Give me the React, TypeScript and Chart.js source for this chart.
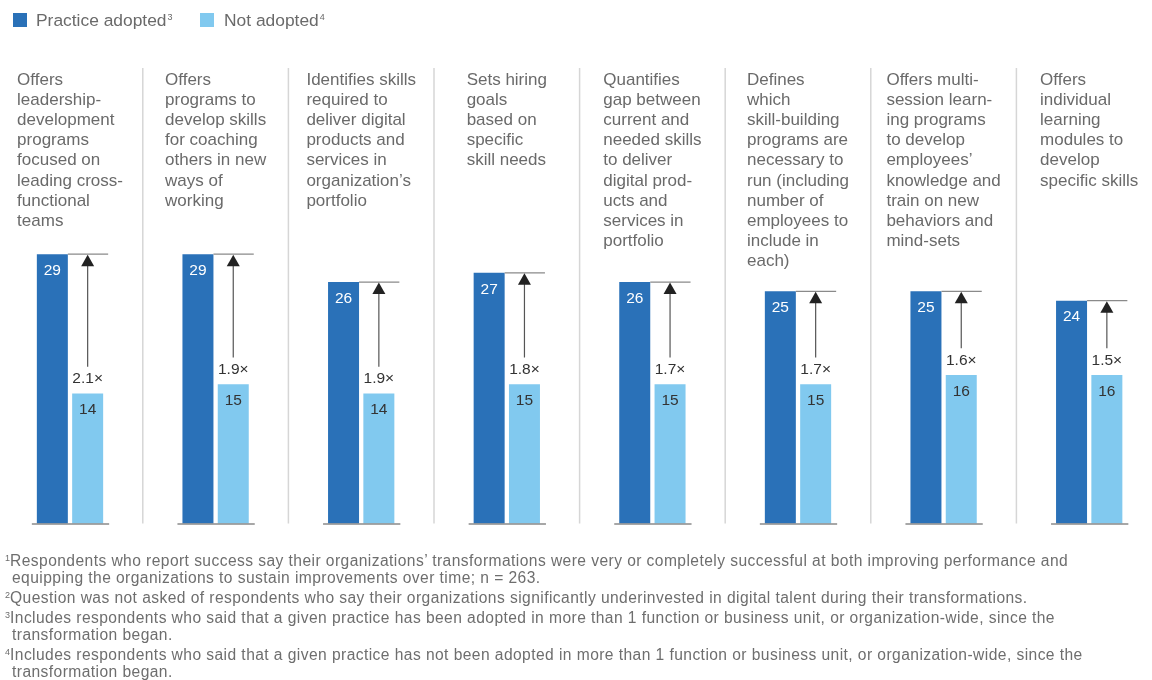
import React, { useEffect, useRef } from "react";
import { Chart, registerables } from "chart.js";

Chart.register(...registerables);

const categories: string[][] = [
  ["Offers", "leadership-", "development", "programs", "focused on", "leading cross-", "functional", "teams"],
  ["Offers", "programs to", "develop skills", "for coaching", "others in new", "ways of", "working"],
  ["Identifies skills", "required to", "deliver digital", "products and", "services in", "organization\u2019s", "portfolio"],
  ["Sets hiring", "goals", "based on", "specific", "skill needs"],
  ["Quantifies", "gap between", "current and", "needed skills", "to deliver", "digital prod-", "ucts and", "services in", "portfolio"],
  ["Defines", "which", "skill-building", "programs are", "necessary to", "run (including", "number of", "employees to", "include in", "each)"],
  ["Offers multi-", "session learn-", "ing programs", "to develop", "employees\u2019", "knowledge and", "train on new", "behaviors and", "mind-sets"],
  ["Offers", "individual", "learning", "modules to", "develop", "specific skills"],
];

const adopted: number[] = [29, 29, 26, 27, 26, 25, 25, 24];
const notAdopted: number[] = [14, 15, 14, 15, 15, 15, 16, 16];
const multipliers: string[] = ["2.1\u00d7", "1.9\u00d7", "1.9\u00d7", "1.8\u00d7", "1.7\u00d7", "1.7\u00d7", "1.6\u00d7", "1.5\u00d7"];

const seriesNames = ["Practice adopted", "Not adopted"];
const seriesSup = ["3", "4"];

const footnotes: { sup: string; lines: string[] }[] = [
  {
    sup: "1",
    lines: [
      "Respondents who report success say their organizations\u2019 transformations were very or completely successful at both improving performance and",
      "equipping the organizations to sustain improvements over time; n = 263.",
    ],
  },
  {
    sup: "2",
    lines: [
      "Question was not asked of respondents who say their organizations significantly underinvested in digital talent during their transformations.",
    ],
  },
  {
    sup: "3",
    lines: [
      "Includes respondents who said that a given practice has been adopted in more than 1 function or business unit, or organization-wide, since the",
      "transformation began.",
    ],
  },
  {
    sup: "4",
    lines: [
      "Includes respondents who said that a given practice has not been adopted in more than 1 function or business unit, or organization-wide, since the",
      "transformation began.",
    ],
  },
];

const DARK = "#2a71b8";
const LIGHT = "#81c9ef";
const FONT = "'Liberation Sans', Arial, Helvetica, sans-serif";

const overlayPlugin = {
  id: "overlay",
  afterDatasetsDraw(chart: any) {
    const ctx = chart.ctx as CanvasRenderingContext2D;
    const xs = chart.scales.x;
    const ys = chart.scales.y;
    const m0 = chart.getDatasetMeta(0);
    const m1 = chart.getDatasetMeta(1);
    const n = categories.length;
    const step = n > 1 ? xs.getPixelForValue(1) - xs.getPixelForValue(0) : 140;
    const yBase = ys.getPixelForValue(0);
    ctx.save();

    for (let i = 0; i < n; i++) {
      const cx = xs.getPixelForValue(i);
      const d = m0.data[i];
      const l = m1.data[i];
      const dLeft = d.x - d.width / 2;
      const dRight = d.x + d.width / 2;
      const lRight = l.x + l.width / 2;

      // separators
      if (i < n - 1) {
        ctx.strokeStyle = "#d6d6d6";
        ctx.lineWidth = 1.5;
        ctx.beginPath();
        ctx.moveTo(cx + step / 2, 68);
        ctx.lineTo(cx + step / 2, yBase);
        ctx.stroke();
      }

      // baseline segment
      ctx.strokeStyle = "#8a8a8a";
      ctx.lineWidth = 1.5;
      ctx.beginPath();
      ctx.moveTo(dLeft - 5, yBase + 0.5);
      ctx.lineTo(lRight + 6, yBase + 0.5);
      ctx.stroke();

      // top reference line
      ctx.strokeStyle = "#8a8a8a";
      ctx.lineWidth = 1.2;
      ctx.beginPath();
      ctx.moveTo(dRight, d.y);
      ctx.lineTo(lRight + 5, d.y);
      ctx.stroke();

      // multiplier label
      const labelY = l.y - 14.7;
      ctx.fillStyle = "#333333";
      ctx.font = `15.5px ${FONT}`;
      ctx.textAlign = "center";
      ctx.textBaseline = "middle";
      ctx.fillText(multipliers[i], l.x, labelY);

      // arrow
      const arrowTop = d.y;
      const arrowBottom = labelY - 12;
      ctx.strokeStyle = "#555555";
      ctx.lineWidth = 1.2;
      ctx.beginPath();
      ctx.moveTo(l.x, arrowTop + 10);
      ctx.lineTo(l.x, arrowBottom);
      ctx.stroke();
      ctx.fillStyle = "#222222";
      ctx.beginPath();
      ctx.moveTo(l.x, arrowTop + 0.5);
      ctx.lineTo(l.x - 6.5, arrowTop + 12);
      ctx.lineTo(l.x + 6.5, arrowTop + 12);
      ctx.closePath();
      ctx.fill();

      // value labels
      ctx.font = `15.5px ${FONT}`;
      ctx.fillStyle = "#ffffff";
      ctx.fillText(String(adopted[i]), d.x, d.y + 16.5);
      ctx.fillStyle = "#333333";
      ctx.fillText(String(notAdopted[i]), l.x, l.y + 16.7);

      // category labels
      ctx.font = `17px ${FONT}`;
      ctx.fillStyle = "#6a6a6a";
      ctx.textAlign = "left";
      ctx.textBaseline = "alphabetic";
      const lines = categories[i];
      let maxW = 0;
      lines.forEach((t) => {
        maxW = Math.max(maxW, ctx.measureText(t).width);
      });
      const left = cx - maxW / 2;
      lines.forEach((t, k) => {
        ctx.fillText(t, left, 84.5 + k * 20.2);
      });
    }
    ctx.restore();
  },
};

export default function App() {
  const ref = useRef<HTMLCanvasElement | null>(null);

  useEffect(() => {
    if (!ref.current) return;
    const chart = new Chart(ref.current, {
      type: "bar",
      data: {
        labels: categories,
        datasets: [
          {
            label: seriesNames[0],
            data: adopted,
            backgroundColor: DARK,
            borderWidth: 0,
            clip: false as any,
          },
          {
            label: seriesNames[1],
            data: notAdopted,
            backgroundColor: LIGHT,
            borderWidth: 0,
            clip: false as any,
          },
        ],
      },
      options: {
        responsive: false,
        animation: false,
        devicePixelRatio: 1,
        layout: { padding: { left: 70, right: 62.8, top: 59.2, bottom: 156.5 } },
        datasets: {
          bar: { categoryPercentage: 0.485, barPercentage: 0.878 },
        },
        plugins: {
          legend: { display: false },
          tooltip: { enabled: false },
        },
        scales: {
          x: { display: false, offset: false, grid: { display: false } },
          y: { display: false, min: 0, max: 50 },
        },
      },
      plugins: [overlayPlugin],
    });
    return () => chart.destroy();
  }, []);

  const legendText: React.CSSProperties = {
    position: "absolute",
    top: 10,
    fontSize: 17.4,
    color: "#6a6a6a",
    fontFamily: FONT,
    lineHeight: "20px",
    whiteSpace: "nowrap",
  };
  const supStyle: React.CSSProperties = { fontSize: 9, position: "relative", top: -6, marginLeft: 1 };

  const footTops: number[] = [];
  let t = 552;
  footnotes.forEach((f) => {
    f.lines.forEach(() => {
      footTops.push(t);
      t += 17.2;
    });
    t += 2.5;
  });

  let idx = 0;
  return (
    <div
      style={{
        position: "fixed",
        left: 0,
        top: 0,
        width: 1152,
        height: 680,
        background: "#ffffff",
        overflow: "hidden",
        fontFamily: FONT,
      }}
    >
      <canvas ref={ref} width={1152} height={680} style={{ position: "absolute", left: 0, top: 0 }} />
      <div style={{ position: "absolute", left: 13, top: 13, width: 14, height: 14, background: DARK }} />
      <div style={{ ...legendText, left: 36 }}>
        {seriesNames[0]}
        <span style={supStyle}>{seriesSup[0]}</span>
      </div>
      <div style={{ position: "absolute", left: 200, top: 13, width: 14, height: 14, background: LIGHT }} />
      <div style={{ ...legendText, left: 224 }}>
        {seriesNames[1]}
        <span style={supStyle}>{seriesSup[1]}</span>
      </div>
      {footnotes.map((f) =>
        f.lines.map((line, k) => {
          const top = footTops[idx++];
          return (
            <div
              key={f.sup + "-" + k}
              style={{
                position: "absolute",
                left: 5,
                top,
                height: 18,
                fontSize: 15.6,
                lineHeight: "18px",
                letterSpacing: "0.43px",
                color: "#6e6e6e",
                whiteSpace: "nowrap",
                fontFamily: FONT,
              }}
            >
              {k === 0 ? (
                <span style={{ fontSize: 9, position: "relative", top: -5, letterSpacing: 0 }}>{f.sup}</span>
              ) : (
                <span style={{ display: "inline-block", width: 7 }} />
              )}
              {line}
            </div>
          );
        })
      )}
    </div>
  );
}
